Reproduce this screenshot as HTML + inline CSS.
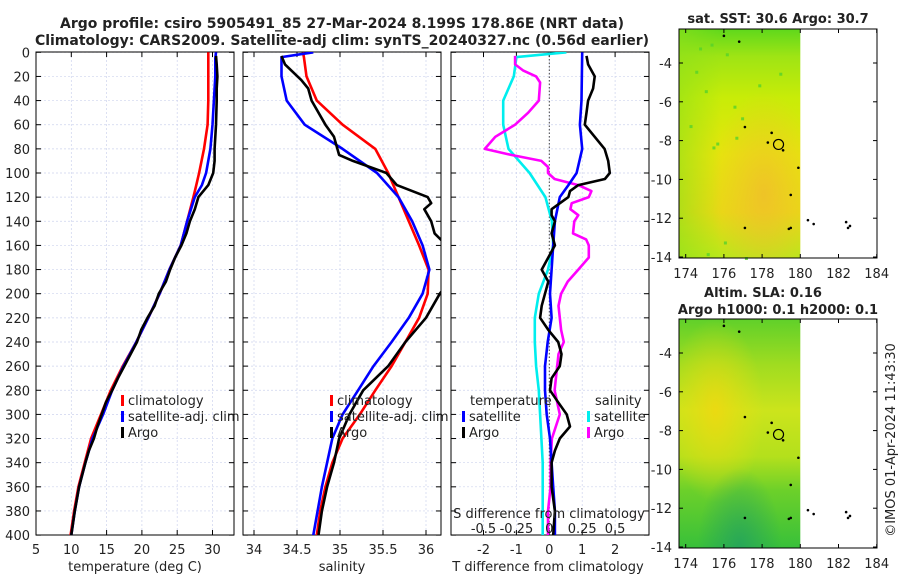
<!DOCTYPE html>
<html><head><meta charset="utf-8">
<style>
html,body{margin:0;padding:0;background:#fff;}
svg{display:block;font-family:"DejaVu Sans","Liberation Sans",sans-serif;}
</style></head>
<body>
<svg id="fig" width="900" height="580" viewBox="0 0 900 580" xmlns="http://www.w3.org/2000/svg">
<defs>
<linearGradient id="sstBase" x1="0" y1="0" x2="0" y2="1">
<stop offset="0" stop-color="#5fd81c"/><stop offset="0.12" stop-color="#9fe414"/>
<stop offset="0.3" stop-color="#c8ec08"/><stop offset="0.55" stop-color="#e6e50c"/>
<stop offset="0.8" stop-color="#e8da14"/><stop offset="1" stop-color="#b8e81a"/>
</linearGradient>
<radialGradient id="sstHot" cx="0.7" cy="0.72" r="0.45">
<stop offset="0" stop-color="#f2b830" stop-opacity="0.7"/><stop offset="1" stop-color="#f2c030" stop-opacity="0"/>
</radialGradient>
<linearGradient id="sstLeft" x1="0" y1="0" x2="1" y2="0">
<stop offset="0" stop-color="#8ee01a" stop-opacity="0.6"/><stop offset="0.35" stop-color="#8ee01a" stop-opacity="0"/>
</linearGradient>
<linearGradient id="slaBase" x1="0" y1="0" x2="0" y2="1">
<stop offset="0" stop-color="#60d02a"/><stop offset="0.2" stop-color="#a0dc20"/>
<stop offset="0.4" stop-color="#cce41c"/><stop offset="0.6" stop-color="#b4e01c"/>
<stop offset="0.75" stop-color="#6cd02a"/><stop offset="1" stop-color="#38c03a"/>
</linearGradient>
<radialGradient id="slaYellow" cx="0.3" cy="0.4" r="0.4">
<stop offset="0" stop-color="#f0d810" stop-opacity="0.85"/><stop offset="1" stop-color="#e8e010" stop-opacity="0"/>
</radialGradient>
<radialGradient id="slaTeal" cx="0.5" cy="1" r="0.35">
<stop offset="0" stop-color="#22a060" stop-opacity="0.8"/><stop offset="1" stop-color="#22a060" stop-opacity="0"/>
</radialGradient>
<clipPath id="c1"><rect x="36" y="52" width="198" height="483"/></clipPath>
<clipPath id="c2"><rect x="243" y="52" width="198" height="483"/></clipPath>
<clipPath id="c3"><rect x="451" y="52" width="198" height="483"/></clipPath>
</defs>
<g id="layer"></g>
</svg>
<script>
// ---------- data ----------
const tDepth = [0,5,20,40,60,80,100,110,120,140,160,180,200,220,240,260,280,300,320,340,360,380,400];
const tClim  = [29.4,29.4,29.4,29.4,29.3,28.8,28.1,27.7,27.3,26.4,25.5,23.9,22.5,20.9,19.2,17.3,15.6,14.2,12.8,11.9,11.0,10.4,9.9];
const tSat   = [30.5,30.4,30.4,30.2,30.0,29.7,29.1,28.5,27.5,26.4,25.5,23.9,22.5,20.9,19.2,17.4,15.8,14.5,13.0,12.0,11.1,10.5,10.0];
const argoDepth = [3,10,20,30,40,60,80,90,100,110,120,130,140,150,160,170,180,190,200,210,220,230,240,250,260,270,280,290,300,310,320,330,340,360,380,400];
const tArgo  = [30.5,30.6,30.7,30.6,30.6,30.5,30.3,30.3,30.1,29.4,28.0,27.5,26.8,26.3,25.6,24.7,24.0,23.4,22.4,21.8,20.8,19.9,19.3,18.4,17.5,16.6,15.8,14.9,14.3,13.7,13.2,12.5,12.0,11.1,10.5,10.0];

const sDepth = [0,4,20,40,60,80,100,120,140,160,180,200,220,240,260,280,300,320,340,360,380,400];
const sClim  = [34.57,34.58,34.61,34.73,35.03,35.41,35.56,35.68,35.80,35.92,36.03,36.02,35.92,35.76,35.60,35.41,35.23,35.03,34.91,34.83,34.77,34.73];
const sSat   = [34.69,34.32,34.32,34.38,34.59,35.03,35.43,35.68,35.84,35.96,36.04,35.96,35.80,35.60,35.39,35.21,35.03,34.91,34.85,34.79,34.74,34.69];
const sArgoDepth = [3,5,10,23,30,40,60,70,80,85,90,100,110,120,125,130,140,150,160,170,180,191,200,220,240,260,280,290,300,320,340,360,380,400];
const sArgo  = [34.32,34.33,34.36,34.55,34.63,34.67,34.83,34.93,34.97,34.99,35.15,35.54,35.66,36.02,36.06,35.98,36.06,36.10,36.24,36.32,36.40,36.26,36.16,36.00,35.76,35.56,35.27,35.19,35.11,34.99,34.93,34.85,34.79,34.75];

const dtSatDepth = [0,40,60,80,100,110,120,140,160,200,220,240,260,280,300,320,340,360,380,400];
const dtSat  = [1.0,0.98,0.93,1.0,0.83,0.58,0.32,0.17,0.12,0.02,0.07,-0.05,-0.13,-0.13,-0.08,0.02,0.07,0.12,0.17,0.17];
const dtArgoDepth = [3,10,20,30,40,50,60,70,80,90,100,105,110,115,120,130,135,140,150,160,170,180,190,200,210,220,230,240,250,260,270,280,290,300,310,320,330,340,360,380,400];
const dtArgo = [1.13,1.18,1.38,1.33,1.18,1.13,1.08,1.38,1.68,1.79,1.84,1.69,0.88,0.63,0.58,0.07,0.07,0.17,0.07,0.17,-0.03,-0.23,-0.03,-0.13,-0.23,-0.28,-0.03,0.27,0.37,0.32,0.07,0.02,0.27,0.53,0.63,0.32,0.17,0.07,0.07,0.17,0.12];
const dsSatDepth = [0,4,20,40,60,80,100,120,140,160,180,200,220,240,260,280,300,320,340,360,380,400];
const dsSat  = [0.13,-0.25,-0.27,-0.35,-0.35,-0.31,-0.15,-0.03,0.02,0.03,-0.01,-0.08,-0.11,-0.11,-0.10,-0.08,-0.07,-0.06,-0.05,-0.05,-0.05,-0.05];
const dsArgoDepth = [3,10,15,20,25,40,50,60,70,80,85,90,95,100,105,110,115,120,125,130,135,140,150,155,160,170,180,190,200,210,220,230,240,250,260,280,300,320,340,360,380,400];
const dsArgo = [-0.26,-0.26,-0.20,-0.10,-0.07,-0.08,-0.16,-0.26,-0.41,-0.49,-0.29,-0.06,-0.01,-0.01,0.04,0.22,0.32,0.30,0.17,0.16,0.22,0.19,0.18,0.28,0.30,0.30,0.22,0.14,0.09,0.07,0.08,0.09,0.11,0.07,0.06,0.04,0.08,0.02,0.01,0.01,-0.01,-0.01];

const depthTicks = [0,20,40,60,80,100,120,140,160,180,200,220,240,260,280,300,320,340,360,380,400];
const tTicks = [5,10,15,20,25,30];
const sTicks = [34,34.5,35,35.5,36];
const sTickLabels = ["34","34.5","35","35.5","36"];
const dtTicks = [-2,-1,0,1,2];
const dsTicks = [-0.5,-0.25,0,0.25,0.5];
const dsTickLabels = ["-0.5","-0.25","0","0.25","0.5"];
const lonTicks = [174,176,178,180,182,184];
const latTicks = [-4,-6,-8,-10,-12,-14];
const islands = [[176.0,-2.6],[176.8,-2.9],[177.1,-7.3],[178.5,-7.6],[178.3,-8.1],[179.1,-8.5],[179.9,-9.4],[179.5,-10.8],[180.4,-12.1],[180.7,-12.3],[182.4,-12.2],[182.5,-12.5],[182.6,-12.4],[177.1,-12.5],[179.5,-12.5],[179.4,-12.55]];
const argoLon = 178.86, argoLat = -8.199;
const sstSpecks = [[174.2,-7.2],[175.4,-8.3],[175.6,-8.1],[176.6,-7.8],[176.5,-6.2],[175.0,-5.4],[174.7,-3.2],[175.3,-3.0],[176.1,-3.5],[177.8,-5.1],[178.9,-4.5],[174.5,-4.4],[176.9,-6.8],[175.1,-13.8],[177.1,-14.0],[176.0,-13.2]];

// ---------- scales ----------
const Y0 = 52.3, YK = 1.207;
const yD = d => Y0 + d*YK;
const xT = t => 36 + (t-5)*7.06;
const xS = s => 254 + (s-34)*86;
const xDT = v => 549.3 + v*32.9;
const xDS = v => xDT(v*4);
const xLon = l => 685.7 + (l-174)*19.1;
const latY1 = a => 63 + (-4 - a)*19.4;
const latY2 = a => 353 + (-4 - a)*19.4;

const NS = "http://www.w3.org/2000/svg";
const layer = document.getElementById('layer');
function mk(tag, attrs, parent){
  const e = document.createElementNS(NS, tag);
  for (const k in attrs) e.setAttribute(k, attrs[k]);
  (parent||layer).appendChild(e);
  return e;
}
function txt(x,y,s,size,anchor,weight,parent){
  const e = mk('text',{x:x,y:y,'font-size':size,'text-anchor':anchor||'middle','font-weight':weight||'normal',fill:'#222'},parent);
  e.textContent = s;
  return e;
}

let t1 = txt(342,28,"Argo profile: csiro 5905491_85 27-Mar-2024 8.199S 178.86E (NRT data)",14,'middle','bold');


let t2 = txt(342,45,"Climatology: CARS2009. Satellite-adj clim: synTS_20240327.nc (0.56d earlier)",14,'middle','bold');



const GRID = '#cdd3ee';
function panel(name, x0, w, xTicks, xFn, clip){
  const g = mk('g',{});
  
  
  xTicks.forEach(v=>{
    const x = xFn(v);
    if (x>x0+1 && x<x0+w-1) mk('line',{x1:x,x2:x,y1:52,y2:535,stroke:GRID,'stroke-width':0.7,'stroke-dasharray':'2,2'},g);
  });
  depthTicks.forEach(d=>{
    const y = yD(d);
    mk('line',{x1:x0,x2:x0+w,y1:y,y2:y,stroke:GRID,'stroke-width':0.7,'stroke-dasharray':'2,2'},g);
    mk('line',{x1:x0,x2:x0+5,y1:y,y2:y,stroke:'#000','stroke-width':1},g);
    mk('line',{x1:x0+w-5,x2:x0+w,y1:y,y2:y,stroke:'#000','stroke-width':1},g);
  });
  xTicks.forEach(v=>{
    const x = xFn(v);
    mk('line',{x1:x,x2:x,y1:535,y2:530,stroke:'#000'},g);
    mk('line',{x1:x,x2:x,y1:52,y2:57,stroke:'#000'},g);
  });
  mk('rect',{x:x0,y:52,width:w,height:483,fill:'none',stroke:'#000','stroke-width':1},g);
  return g;
}
function line(depths, vals, xFn, color, clip, name, w){
  const pts = depths.map((d,i)=>xFn(vals[i]).toFixed(1)+','+yD(d).toFixed(1)).join(' ');
  const p = mk('polyline',{points:pts,fill:'none',stroke:color,'stroke-width':w||2.6,'stroke-linejoin':'round','clip-path':'url(#'+clip+')'});
  
  
  return p;
}

depthTicks.forEach(d=>{
  const e = txt(30, yD(d)+5, String(d), 13, 'end');
  
  
});

panel('temperature-panel',36,198,tTicks,xT,'c1');
tTicks.forEach(v=>{ const e=txt(xT(v),554,String(v),13);  });
let xl1 = txt(135,571,"temperature (deg C)",13);


line(tDepth,tClim,xT,'#f00','c1','temp-climatology-line');
line(tDepth,tSat,xT,'#00f','c1','temp-satellite-line');
line(argoDepth,tArgo,xT,'#000','c1','temp-argo-line');

panel('salinity-panel',243,198,sTicks,xS,'c2');
sTicks.forEach((v,i)=>{ const e=txt(xS(v),554,sTickLabels[i],13);  });
let xl2 = txt(342,571,"salinity",13);


line(sDepth,sClim,xS,'#f00','c2','sal-climatology-line');
line(sDepth,sSat,xS,'#00f','c2','sal-satellite-line');
line(sArgoDepth,sArgo,xS,'#000','c2','sal-argo-line');

panel('difference-panel',451,198,dtTicks,xDT,'c3');
mk('line',{x1:xDT(0),x2:xDT(0),y1:52,y2:535,stroke:'#444','stroke-width':1,'stroke-dasharray':'1.5,2'});
dtTicks.forEach(v=>{ const e=txt(xDT(v),554,String(v),13);  });
let xl3 = txt(548,571,"T difference from climatology",13);


line(dsSatDepth,dsSat,xDS,'#0ee','c3','sdiff-satellite-line');
line(dsArgoDepth,dsArgo,xDS,'#f0f','c3','sdiff-argo-line');
line(dtSatDepth,dtSat,xDT,'#00f','c3','tdiff-satellite-line');
line(dtArgoDepth,dtArgo,xDT,'#000','c3','tdiff-argo-line');
let sl = txt(549,518,"S difference from climatology",13);


dsTicks.forEach((v,i)=>{ const e=txt(xDS(v),533,dsTickLabels[i],13);  });

function legItem(x,y,color,label,name){
  const g = mk('g',{});
  
  
  mk('rect',{x:x,y:y-10,width:3,height:11,fill:color},g);
  txt(x+7,y,label,13,'start','normal',g);
}
legItem(121,405,'#f00','climatology','legend-climatology');
legItem(121,421,'#00f','satellite-adj. clim','legend-satellite-adj');
legItem(121,437,'#000','Argo','legend-argo');
legItem(330,405,'#f00','climatology','legend-climatology-2');
legItem(330,421,'#00f','satellite-adj. clim','legend-satellite-adj-2');
legItem(330,437,'#000','Argo','legend-argo-2');
let lt = txt(470,405,"temperature",13,'start');  
let ls = txt(595,405,"salinity",13,'start');  
legItem(462,421,'#00f','satellite','legend-t-satellite');
legItem(462,437,'#000','Argo','legend-t-argo');
legItem(587,421,'#0ee','satellite','legend-s-satellite');
legItem(587,437,'#f0f','Argo','legend-s-argo');

function map(name, top, latY, kind){
  const g = mk('g',{});
  
  
  const x0 = 679, x1 = 877, bot = top+229, xd = xLon(180);
  if (kind==='sst'){
    mk('rect',{x:x0,y:top,width:xd-x0,height:bot-top,fill:'url(#sstBase)'},g);
    mk('rect',{x:x0,y:top,width:xd-x0,height:bot-top,fill:'url(#sstHot)'},g);
    mk('rect',{x:x0,y:top,width:xd-x0,height:bot-top,fill:'url(#sstLeft)'},g);
    sstSpecks.forEach(p=>{ mk('rect',{x:xLon(p[0]),y:latY(p[1]),width:3,height:3,fill:'#55d22a','fill-opacity':0.8},g); });
  } else {
    mk('rect',{x:x0,y:top,width:xd-x0,height:bot-top,fill:'url(#slaBase)'},g);
    mk('rect',{x:x0,y:top,width:xd-x0,height:bot-top,fill:'url(#slaYellow)'},g);
    mk('rect',{x:x0,y:top,width:xd-x0,height:bot-top,fill:'url(#slaTeal)'},g);
  }
  islands.forEach(p=>{ mk('circle',{cx:xLon(p[0]),cy:latY(p[1]),r:1.3,fill:'#000'},g); });
  mk('circle',{cx:xLon(argoLon),cy:latY(argoLat),r:5,fill:'none',stroke:'#000','stroke-width':1.2},g);
  mk('rect',{x:x0,y:top,width:x1-x0,height:bot-top,fill:'none',stroke:'#000'},g);
  latTicks.forEach(a=>{
    const y = latY(a);
    mk('line',{x1:x0,x2:x0+4,y1:y,y2:y,stroke:'#000'},g);
    mk('line',{x1:x1-4,x2:x1,y1:y,y2:y,stroke:'#000'},g);
    txt(672,y+5,String(a),13,'end','normal',g);
  });
  lonTicks.forEach(l=>{
    const x = xLon(l);
    mk('line',{x1:x,x2:x,y1:bot,y2:bot-4,stroke:'#000'},g);
    mk('line',{x1:x,x2:x,y1:top,y2:top+4,stroke:'#000'},g);
    txt(x,bot+20,String(l),13,'middle','normal',g);
  });
}
map('sst-map',29,latY1,'sst');
map('sla-map',319,latY2,'sla');
let m1 = txt(778,23,"sat. SST: 30.6 Argo: 30.7",13,'middle','bold');  
let m2 = txt(763,297,"Altim. SLA: 0.16",13,'middle','bold');  
let m3 = txt(778,314,"Argo h1000: 0.1 h2000: 0.1",13,'middle','bold');  
let cr = txt(0,0,"©IMOS 01-Apr-2024 11:43:30",13,'middle');
cr.setAttribute('transform','translate(895,440) rotate(-90)');


</script>
</body></html>
